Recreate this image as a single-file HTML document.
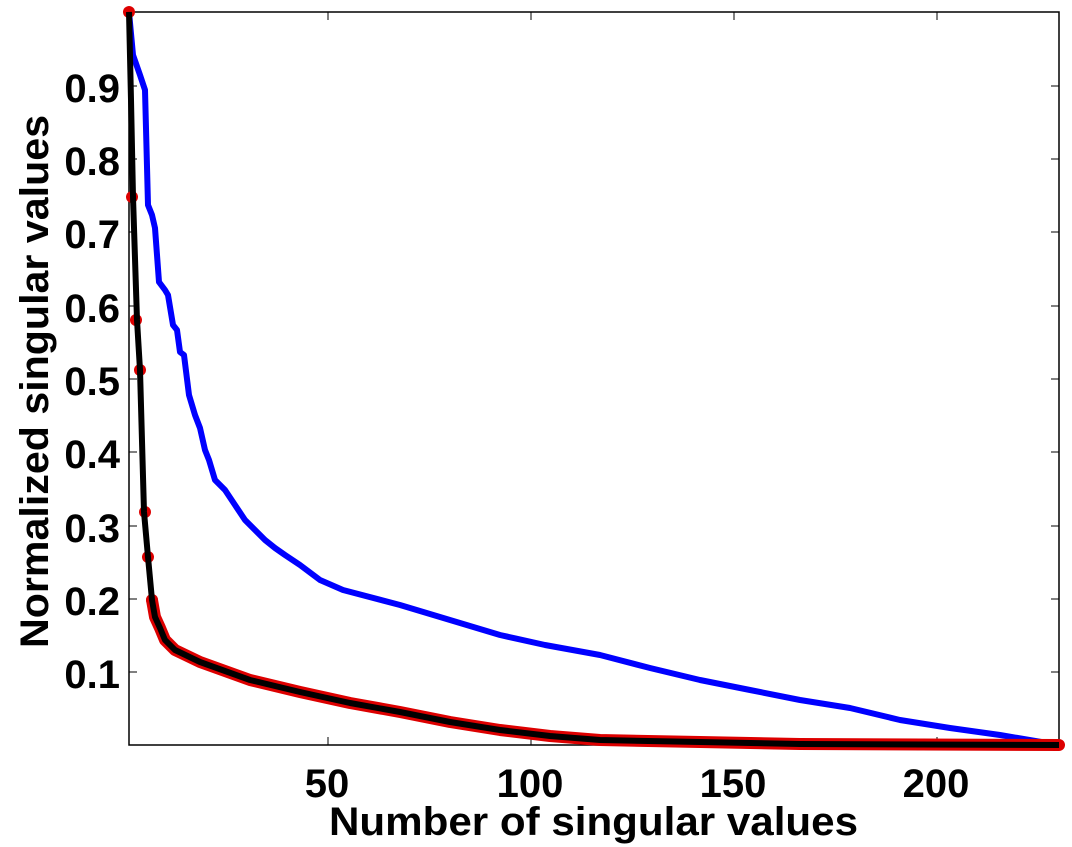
<!DOCTYPE html>
<html><head><style>body{margin:0;background:#fff}svg{display:block}text{font-family:"Liberation Sans",Arial,sans-serif;font-weight:bold;fill:#000}</style></head>
<body>
<svg width="1072" height="847" viewBox="0 0 1072 847">
<rect x="129" y="12" width="930" height="733" fill="#fff" stroke="#000" stroke-width="1.5"/>
<g stroke="#000" stroke-width="1">
<path d="M129 672h8M129 599h8M129 526h8M129 452h8M129 379h8M129 306h8M129 232h8M129 159h8M129 86h8"/>
<path d="M1059 672h-8M1059 599h-8M1059 526h-8M1059 452h-8M1059 379h-8M1059 306h-8M1059 232h-8M1059 159h-8M1059 86h-8"/>
<path d="M328 745v-8M531 745v-8M734 745v-8M937 745v-8M328 12v8M531 12v8M734 12v8M937 12v8"/>
</g>
<g font-size="40" text-anchor="end">
<text x="120" y="688">0.1</text><text x="120" y="615">0.2</text><text x="120" y="542">0.3</text><text x="120" y="468">0.4</text><text x="120" y="395">0.5</text><text x="120" y="322">0.6</text><text x="120" y="248">0.7</text><text x="120" y="175">0.8</text><text x="120" y="102">0.9</text>
</g>
<g font-size="40" text-anchor="middle">
<text x="327" y="797">50</text><text x="530" y="797">100</text><text x="733" y="797">150</text><text x="936" y="797">200</text>
</g>
<text x="329" y="835" font-size="40" textLength="529" lengthAdjust="spacingAndGlyphs">Number of singular values</text>
<text transform="translate(48,648) rotate(-90)" font-size="40" textLength="533" lengthAdjust="spacingAndGlyphs">Normalized singular values</text>
<polyline fill="none" stroke="#00f" stroke-width="6" stroke-linejoin="round" points="129,12 133,55 140,75 145,90 148,205 152,215 155,228 159,282 165,290 168,295 173,325 177,330 180,352 184,355 189,395 195,415 200,428 205,450 209,460 215,480 220,485 225,490 235,505 245,520 255,530 265,540 275,548 285,555 300,565 320,580 343,590 400,605 450,620 500,635 545,645 600,655 650,668 700,680 750,690 800,700 850,708 900,720 950,728 1000,735 1059,745"/>
<polyline fill="none" stroke="#d00" stroke-width="12" stroke-linejoin="round" stroke-linecap="round" points="152,600 155,617 160,628 165,640 175,650 200,662 250,680 300,692 350,703 400,712 450,722 500,730 550,736 600,740 700,742 800,744 1059,745"/>
<g fill="#d00">
<circle cx="129" cy="12" r="6"/><circle cx="132" cy="197" r="6"/><circle cx="136" cy="320" r="6"/><circle cx="140" cy="370" r="6"/><circle cx="145" cy="512" r="6"/><circle cx="148" cy="557" r="6"/><circle cx="152" cy="600" r="6"/>
</g>
<polyline fill="none" stroke="#000" stroke-width="6" stroke-linejoin="round" points="129,12 131,100 133,197 137,320 140,370 144,512 148,557 152,600 155,617 160,628 165,640 175,650 200,662 250,680 300,692 350,703 400,712 450,722 500,730 550,736 600,740 700,742 800,744 1059,745"/>
</svg>
</body></html>
